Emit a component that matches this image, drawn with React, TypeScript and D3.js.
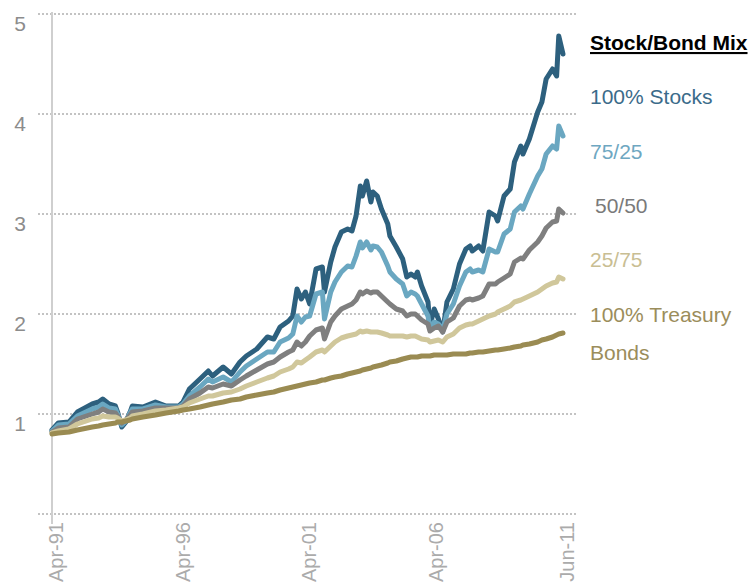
import React from "react";
import * as d3 from "d3";

const dates = [
  "1991-04","1991-07","1991-12","1992-04","1992-11","1993-02","1993-04","1993-07","1993-10","1993-11",
  "1994-01","1994-03","1994-05","1994-06","1994-11","1995-05","1995-10","1996-04","1996-06","1996-09",
  "1997-02","1997-06","1997-08","1998-01","1998-05","1998-09","1998-12","1999-05","1999-10","2000-01",
  "2000-04","2000-08","2000-10","2000-12","2001-02","2001-04","2001-06","2001-09","2001-12","2002-01",
  "2002-04","2002-06","2002-09","2002-12","2003-02","2003-04","2003-06","2003-07","2003-09","2003-11",
  "2003-12","2004-02","2004-04","2004-07","2004-08","2004-11","2005-02","2005-04","2005-06","2005-08",
  "2005-09","2005-11","2006-02","2006-03","2006-05","2006-07","2006-09","2006-11","2007-02","2007-05",
  "2007-08","2007-10","2007-11","2008-02","2008-04","2008-07","2008-10","2008-11","2009-02","2009-05",
  "2009-07","2009-10","2009-11","2010-02","2010-06","2010-08","2010-10","2011-01","2011-03","2011-04",
  "2011-06",
];

const stocks100 = [
  0.84,0.91,0.92,1.02,1.10,1.12,1.15,1.10,1.08,1.02,
  0.87,0.92,1.02,1.08,1.07,1.12,1.08,1.08,1.12,1.25,
  1.35,1.43,1.38,1.47,1.40,1.52,1.58,1.65,1.77,1.75,
  1.87,1.93,1.98,2.25,2.15,2.22,2.10,2.45,2.47,2.22,
  2.52,2.67,2.82,2.85,2.83,2.98,3.28,3.18,3.33,3.12,
  3.22,3.18,3.05,2.90,2.78,2.67,2.55,2.37,2.40,2.37,
  2.42,2.28,2.12,1.88,2.05,1.95,1.82,2.12,2.25,2.50,
  2.65,2.68,2.63,2.68,2.63,3.02,2.98,2.93,3.18,3.25,
  3.52,3.68,3.60,3.75,4.02,4.12,4.35,4.45,4.38,4.78,
  4.60,
];

const mix7525 = [
  0.83,0.89,0.90,0.98,1.05,1.07,1.10,1.06,1.05,1.00,
  0.89,0.93,1.01,1.05,1.05,1.09,1.07,1.07,1.10,1.18,
  1.27,1.35,1.32,1.37,1.32,1.42,1.48,1.55,1.62,1.62,
  1.72,1.76,1.80,1.98,1.92,1.97,1.98,2.20,2.22,1.95,
  2.22,2.32,2.42,2.48,2.47,2.58,2.72,2.66,2.72,2.64,
  2.68,2.67,2.62,2.48,2.42,2.35,2.30,2.18,2.22,2.20,
  2.18,2.10,1.98,1.85,1.92,1.90,1.84,2.00,2.10,2.28,
  2.42,2.45,2.42,2.44,2.42,2.65,2.62,2.62,2.80,2.85,
  3.02,3.08,3.05,3.20,3.38,3.45,3.60,3.68,3.65,3.88,
  3.78,
];

const mix5050 = [
  0.82,0.86,0.87,0.95,1.00,1.02,1.05,1.02,1.01,0.98,
  0.91,0.94,0.99,1.02,1.03,1.06,1.06,1.06,1.08,1.15,
  1.21,1.27,1.26,1.30,1.28,1.34,1.38,1.44,1.50,1.52,
  1.57,1.62,1.64,1.72,1.68,1.72,1.78,1.84,1.86,1.75,
  1.92,1.98,2.05,2.08,2.10,2.14,2.22,2.20,2.23,2.21,
  2.22,2.22,2.18,2.12,2.10,2.05,2.03,1.98,2.00,2.00,
  1.98,1.94,1.90,1.83,1.86,1.88,1.82,1.92,1.96,2.08,
  2.14,2.15,2.14,2.16,2.18,2.30,2.30,2.32,2.36,2.40,
  2.52,2.56,2.55,2.64,2.72,2.78,2.86,2.92,2.93,3.05,
  3.01,
];

const mix2575 = [
  0.81,0.83,0.85,0.90,0.95,0.96,0.98,0.97,0.97,0.96,
  0.93,0.94,0.96,0.98,1.00,1.03,1.04,1.06,1.07,1.11,
  1.15,1.18,1.18,1.21,1.22,1.25,1.28,1.32,1.36,1.38,
  1.42,1.45,1.47,1.52,1.51,1.54,1.57,1.62,1.64,1.62,
  1.68,1.72,1.76,1.78,1.79,1.80,1.83,1.82,1.83,1.82,
  1.82,1.82,1.81,1.79,1.78,1.78,1.78,1.77,1.78,1.78,
  1.77,1.75,1.74,1.72,1.73,1.74,1.72,1.77,1.80,1.86,
  1.89,1.90,1.90,1.93,1.95,1.98,2.00,2.02,2.05,2.08,
  2.12,2.14,2.15,2.18,2.22,2.25,2.28,2.31,2.32,2.37,
  2.35,
];

const bonds100 = [
  0.80,0.81,0.82,0.84,0.87,0.88,0.89,0.90,0.91,0.92,
  0.92,0.93,0.94,0.95,0.97,0.99,1.01,1.03,1.04,1.05,
  1.07,1.09,1.10,1.12,1.14,1.15,1.17,1.19,1.21,1.22,
  1.24,1.26,1.27,1.28,1.29,1.30,1.31,1.32,1.34,1.34,
  1.36,1.37,1.38,1.40,1.41,1.42,1.43,1.44,1.45,1.46,
  1.47,1.48,1.49,1.51,1.52,1.53,1.55,1.56,1.57,1.57,
  1.57,1.58,1.58,1.58,1.59,1.59,1.59,1.59,1.60,1.60,
  1.60,1.61,1.61,1.62,1.62,1.63,1.64,1.64,1.65,1.66,
  1.67,1.68,1.69,1.70,1.72,1.74,1.75,1.77,1.79,1.80,
  1.81,
];

const yTicks = [0, 1, 2, 3, 4, 5];
const xTickDates = ["1991-04", "1996-04", "2001-04", "2006-04", "2011-06"];
const xTickLabels = ["Apr-91", "Apr-96", "Apr-01", "Apr-06", "Jun-11"];

const seriesNames = ["100% Stocks", "75/25", "50/50", "25/75", "100% Treasury Bonds"];
const seriesValues = [stocks100, mix7525, mix5050, mix2575, bonds100];
const lineColors = ["#2d607e", "#6aa7c1", "#7f7f7f", "#d0c79b", "#9a8b52"];
const labelColors = ["#3b6b8a", "#6ea7c1", "#7a7a7a", "#c9be93", "#9b8d5b"];

const legendTitle = "Stock/Bond Mix";

export default function App() {
  const W = 754, H = 585;
  const parse = d3.timeParse("%Y-%m");
  const dts = dates.map((d) => parse(d) as Date);
  const x = d3.scaleTime().domain([parse("1991-04") as Date, parse("2011-06") as Date]).range([52, 563]);
  const y = d3.scaleLinear().domain([0, 5]).range([514, 14]);
  const font = "'Liberation Sans', Arial, sans-serif";

  const line = d3
    .line<number>()
    .x((_, i) => x(dts[i]))
    .y((v) => y(v))
    .curve(d3.curveLinear);

  const legendItems = [
    { text: "100% Stocks", x: 590, y: 104, c: 0 },
    { text: "75/25", x: 590, y: 159, c: 1 },
    { text: "50/50", x: 595, y: 213, c: 2 },
    { text: "25/75", x: 590, y: 267, c: 3 },
    { text: "100% Treasury", x: 590, y: 322, c: 4 },
    { text: "Bonds", x: 590, y: 360, c: 4 },
  ];

  return (
    <svg
      width={W}
      height={H}
      style={{ position: "absolute", left: 0, top: 0, background: "#fff" }}
      fontFamily={font}
    >
      {yTicks.map((t) => (
        <line
          key={"g" + t}
          x1={38}
          x2={578}
          y1={y(t)}
          y2={y(t)}
          stroke="#b0b0b0"
          strokeWidth={1.3}
          strokeDasharray="2,2"
        />
      ))}
      <line x1={52} x2={52} y1={12} y2={524} stroke="#cfcfcf" strokeWidth={2} />
      {yTicks
        .filter((t) => t > 0)
        .map((t) => (
          <text key={"yl" + t} x={20} y={y(t) + 17} fontSize={21} fill="#8c8c8c" textAnchor="middle">
            {t}
          </text>
        ))}
      {xTickDates.map((d, i) => {
        const px = x(parse(d) as Date) + 4;
        return (
          <text
            key={"xl" + i}
            transform={`translate(${px},522) rotate(-90)`}
            fontSize={20}
            fill="#ababab"
            textAnchor="end"
            dy="0.35em"
          >
            {xTickLabels[i]}
          </text>
        );
      })}
      {seriesValues.map((vals, i) => (
        <path
          key={seriesNames[i]}
          d={line(vals) || ""}
          fill="none"
          stroke={lineColors[i]}
          strokeWidth={5}
          strokeLinejoin="round"
          strokeLinecap="round"
        />
      ))}
      <text x={590} y={50} fontSize={21} fontWeight="bold" fill="#000" textDecoration="underline">
        {legendTitle}
      </text>
      {legendItems.map((l, i) => (
        <text key={"lg" + i} x={l.x} y={l.y} fontSize={21} fill={labelColors[l.c]}>
          {l.text}
        </text>
      ))}
    </svg>
  );
}
